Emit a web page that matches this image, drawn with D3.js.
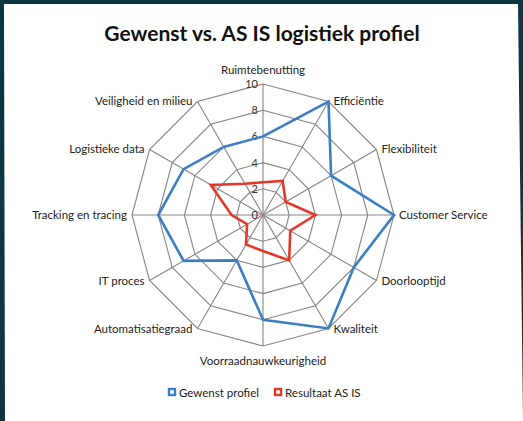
<!DOCTYPE html>
<html>
<head>
<meta charset="utf-8">
<script src="https://cdn.jsdelivr.net/npm/d3@7"></script>
<style>
  body { margin: 0; background: #0c3641; }
  svg { display: block; }
  text { font-family: Lato, "Open Sans", sans-serif; fill: #222; }
</style>
</head>
<body>
<div id="chart"></div>
<script>
var categories = ["Ruimtebenutting", "Efficiëntie", "Flexibiliteit", "Customer Service",
  "Doorlooptijd", "Kwaliteit", "Voorraadnauwkeurigheid", "Automatisatiegraad",
  "IT proces", "Tracking en tracing", "Logistieke data", "Veiligheid en milieu"];
var gewenst = [6, 10, 6, 10, 8, 10, 8, 4, 7, 8, 7, 6];
var asIs = [2.5, 3, 2, 4, 2.4, 4, 2.75, 2.6, 1.4, 2.4, 4.6, 2.75];
var ticks = [0, 2, 4, 6, 8, 10];
var seriesNames = ["Gewenst profiel", "Resultaat AS IS"];
var seriesColors = ["#3b7ec3", "#e2372b"];

var width = 523, height = 421;
var cx = 263, cy = 215;

var svg = d3.select("#chart").append("svg")
    .attr("width", width)
    .attr("height", height);

// white panel on the dark slide
svg.append("path")
    .attr("d", "M4,4 L518,4 L523,421 L5,421 Z")
    .attr("fill", "#ffffff");

svg.append("text")
    .attr("x", 262)
    .attr("y", 41)
    .attr("text-anchor", "middle")
    .style("font-size", "21px")
    .style("font-weight", "bold")
    .style("fill", "#111")
    .text("Gewenst vs. AS IS logistiek profiel");

var r = d3.scaleLinear().domain([0, 10]).range([0, 131]);
var angle = d3.scaleLinear().domain([0, categories.length]).range([0, 2 * Math.PI]);

function px(i, v) { return cx + r(v) * Math.sin(angle(i)); }
function py(i, v) { return cy - r(v) * Math.cos(angle(i)); }

var g = svg.append("g");

// rings
ticks.slice(1).forEach(function(t) {
  var pts = categories.map(function(c, i) { return [px(i, t), py(i, t)]; });
  g.append("polygon")
      .attr("points", pts.map(function(p) { return p.join(","); }).join(" "))
      .attr("fill", "none")
      .attr("stroke", "#858585")
      .attr("stroke-width", 1.1);
});

// spokes
g.selectAll(".spoke")
    .data(categories)
    .enter()
    .append("line")
    .attr("class", "spoke")
    .attr("x1", cx).attr("y1", cy)
    .attr("x2", function(d, i) { return px(i, 10); })
    .attr("y2", function(d, i) { return py(i, 10); })
    .attr("stroke", "#858585")
    .attr("stroke-width", 1.1);

// tick labels
g.selectAll(".tick")
    .data(ticks)
    .enter()
    .append("text")
    .attr("class", "tick")
    .attr("x", cx - 5)
    .attr("y", function(d) { return cy - r(d) + 4; })
    .attr("text-anchor", "end")
    .style("font-size", "11px")
    .style("fill", "#333")
    .text(function(d) { return d; });

// series
var line = d3.line().curve(d3.curveLinearClosed);
[gewenst, asIs].forEach(function(vals, k) {
  g.append("path")
      .attr("d", line(vals.map(function(v, i) { return [px(i, v), py(i, v)]; })))
      .attr("fill", "none")
      .attr("stroke", seriesColors[k])
      .attr("stroke-width", 2.6)
      .attr("stroke-linejoin", "miter");
});

// category labels
g.selectAll(".cat")
    .data(categories)
    .enter()
    .append("text")
    .attr("class", "cat")
    .attr("x", function(d, i) {
      var s = Math.sin(angle(i));
      return px(i, 10) + (Math.abs(s) < 0.01 ? 0 : (s > 0 ? 5 : -5));
    })
    .attr("y", function(d, i) {
      var c = Math.cos(angle(i));
      var y = py(i, 10);
      if (c > 0.99) return y - 10;
      if (c < -0.99) return y + 19;
      return y + 4 - c * 1;
    })
    .attr("text-anchor", function(d, i) {
      var s = Math.sin(angle(i));
      return Math.abs(s) < 0.01 ? "middle" : (s > 0 ? "start" : "end");
    })
    .style("font-size", "11.5px")
    .text(function(d) { return d; });

// legend
var legend = svg.append("g").attr("transform", "translate(168,393)");
var lx = [0, 106];
seriesNames.forEach(function(name, k) {
  var lg = legend.append("g").attr("transform", "translate(" + lx[k] + ",0)");
  lg.append("rect")
      .attr("x", 1).attr("y", -4)
      .attr("width", 6).attr("height", 6)
      .attr("fill", "#fff")
      .attr("stroke", seriesColors[k])
      .attr("stroke-width", 2.4);
  lg.append("text")
      .attr("x", 11)
      .attr("y", 3.5)
      .style("font-size", "11.5px")
      .text(name);
});
</script>
</body>
</html>
